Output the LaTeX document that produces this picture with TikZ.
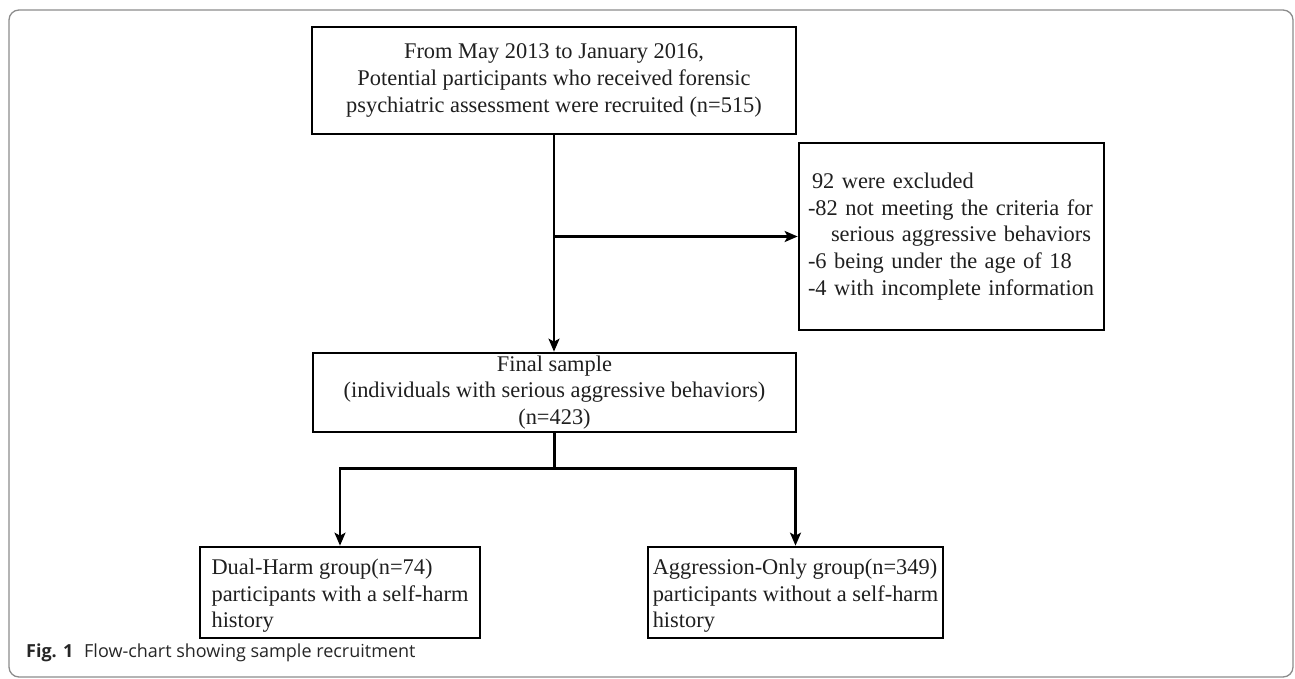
\documentclass[tikz,border=0pt]{standalone}
\usepackage{fontspec}
\setmainfont{Liberation Serif}
\newfontfamily\capfont{Open Sans}
\usetikzlibrary{arrows.meta,calc}
\begin{document}
\begin{tikzpicture}[x=1pt,y=-1pt,
  box/.style={draw=black, line width=2.7pt, rectangle, inner sep=0pt,
    font=\fontsize{22.4}{26.8}\selectfont, text=black!88},
  conn/.style={line width=2.3pt},
  arr/.style={conn, -{Stealth[length=13pt,width=11pt,inset=3pt]}},
]
\useasboundingbox (0,0) rectangle (1295,679);
\draw[black!45, line width=1.3pt, rounded corners=10pt] (9,10) rectangle (1293,677);

\node[box, minimum width=484, minimum height=107, align=center] (top) at (554,80.5)
  {From May 2013 to January 2016,\\ Potential participants who received forensic\\ psychiatric assessment were recruited (n=515)};

\node[box, minimum width=305, minimum height=187, text width=287, align=left] (excl) at (951.5,236.5)
  {\hspace*{4pt}92 were excluded\\ -82 not meeting the criteria for\\ \hspace*{23pt}serious aggressive behaviors\\ -6 being under the age of 18\\ -4 with incomplete information};

\node[box, minimum width=483, minimum height=79, align=center] (final) at (554.5,392.5)
  {Final sample\\ (individuals with serious aggressive behaviors)\\ (n=423)};

\node[box, minimum width=280, minimum height=91, align=left] (dual) at (340,592.5)
  {\rule{0pt}{22pt}Dual-Harm group(n=74)\\ participants with a self-harm\\ history};

\node[box, minimum width=295, minimum height=91, align=left] (aggr) at (795.5,592.5)
  {\rule{0pt}{22pt}Aggression-Only group(n=349)\\ participants without a self-harm\\ history};

\draw[arr] (top.south) -- (top.south |- final.north);
\coordinate (j1) at (top.south |- excl.west);
\draw[arr] (j1) -- (excl.west);
\coordinate (j2) at ($(final.south)+(0,35)$);
\draw[conn] (final.south) -- (j2);
\draw[arr] (j2) -| (dual.north);
\draw[arr] (j2) -| (aggr.north);

\node[anchor=base west, inner sep=0pt, font=\capfont\fontsize{18}{22}\selectfont, text=black!85] (cap) at (26,657)
  {\textbf{Fig. 1}\hspace{0.6em}Flow-chart showing sample recruitment};
\end{tikzpicture}
\end{document}
